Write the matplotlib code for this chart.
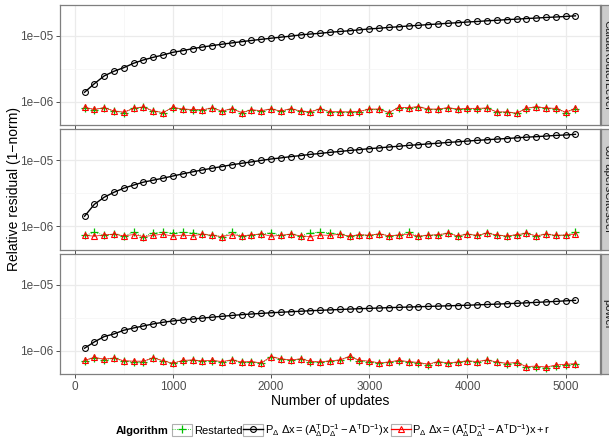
import matplotlib
matplotlib.use('Agg')
import matplotlib.pyplot as plt
from matplotlib.lines import Line2D
from matplotlib.patches import Rectangle
from matplotlib.legend_handler import HandlerLine2D

plt.rcParams['font.family'] = ['Liberation Sans', 'DejaVu Sans']
plt.rcParams['mathtext.fontset'] = 'custom'
plt.rcParams['mathtext.rm'] = 'Liberation Sans'
plt.rcParams['mathtext.it'] = 'Liberation Sans'
plt.rcParams['mathtext.bf'] = 'Liberation Sans:bold'

######################### DATA #########################
updates = list(range(100, 5200, 100))
graphs = ["CaidaRouterLevel", "coPapersCiteseer", "power"]
algorithms = ["Restarted",
              r"$\mathregular{P_\Delta\ \Delta x = (A_\Delta^T D_\Delta^{-1} - A^T D^{-1})x}$",
              r"$\mathregular{P_\Delta\ \Delta x = (A_\Delta^T D_\Delta^{-1} - A^T D^{-1})x + r}$"]

# CaidaRouterLevel (values in 1e-6 / 1e-7)
caida_delta = [1.40, 1.89, 2.48, 2.92, 3.31, 3.86, 4.33, 4.75, 5.15, 5.66,
               5.99, 6.42, 6.80, 7.15, 7.50, 7.85, 8.20, 8.55, 8.90, 9.25,
               9.60, 9.95, 10.4, 10.7, 11.0, 11.4, 11.7, 12.0, 12.4, 12.8,
               13.1, 13.5, 13.8, 14.2, 14.5, 14.9, 15.2, 15.6, 15.9, 16.3,
               16.6, 17.0, 17.3, 17.7, 18.0, 18.4, 18.7, 19.1, 19.4, 19.8, 20.2]
caida_delta_r = [8.3, 7.7, 8.2, 7.3, 7.0, 8.0, 8.4, 7.3, 6.9, 8.3,
                 7.8, 7.7, 7.6, 8.1, 7.3, 7.9, 6.9, 7.6, 7.4, 7.8,
                 7.3, 7.9, 7.3, 7.1, 7.9, 7.1, 7.1, 7.05, 7.2, 7.8,
                 7.8, 6.9, 8.3, 8.2, 8.5, 7.8, 7.8, 8.2, 7.8, 8.0,
                 8.0, 8.1, 7.05, 7.05, 6.75, 8.0, 8.5, 8.1, 8.0, 7.0, 8.0]
caida_restart = [8.2, 7.6, 8.2, 7.2, 6.9, 8.0, 8.3, 7.2, 6.9, 8.2,
                 7.7, 7.6, 7.6, 8.0, 7.2, 7.9, 6.9, 7.5, 7.3, 7.8,
                 7.2, 7.8, 7.2, 7.0, 7.8, 7.0, 7.0, 7.0, 7.1, 7.7,
                 7.7, 6.8, 8.2, 8.1, 8.4, 7.7, 7.7, 8.1, 7.7, 7.9,
                 7.9, 8.0, 7.0, 7.0, 6.7, 7.9, 8.4, 8.0, 7.9, 6.9, 7.9]

# coPapersCiteseer
copapers_delta = [1.42, 2.15, 2.75, 3.27, 3.77, 4.20, 4.65, 4.98, 5.34, 5.75,
                  6.20, 6.65, 7.10, 7.55, 8.00, 8.50, 8.95, 9.40, 9.90, 10.4,
                  10.8, 11.3, 11.7, 12.2, 12.6, 13.1, 13.5, 14.0, 14.4, 14.9,
                  15.3, 15.8, 16.2, 16.7, 17.1, 17.6, 18.0, 18.5, 18.9, 19.4,
                  19.9, 20.3, 20.8, 21.2, 21.7, 22.2, 22.6, 23.1, 23.6, 24.0, 24.5]
copapers_delta_r = [7.3, 7.1, 7.4, 7.6, 7.2, 7.5, 7.0, 7.3, 7.6, 7.1,
                    7.4, 7.2, 7.6, 7.3, 7.0, 7.5, 7.2, 7.4, 7.7, 7.1,
                    7.3, 7.6, 7.2, 7.0, 7.4, 7.3, 7.6, 7.1, 7.5, 7.3,
                    7.7, 7.2, 7.4, 7.6, 7.1, 7.3, 7.5, 7.8, 7.2, 7.6,
                    7.3, 7.9, 7.4, 7.1, 7.5, 7.8, 7.2, 7.6, 7.3, 7.4, 7.6]
copapers_restart = [7.3, 8.1, 7.4, 7.6, 7.2, 8.1, 7.0, 8.0, 8.1, 8.0,
                    8.1, 8.0, 7.6, 7.3, 7.0, 8.1, 7.2, 7.4, 7.7, 8.0,
                    7.3, 7.6, 7.2, 8.0, 8.1, 8.0, 7.6, 7.1, 7.5, 7.3,
                    7.7, 7.2, 7.4, 8.1, 7.1, 7.3, 7.5, 7.8, 7.2, 7.6,
                    7.3, 7.9, 7.4, 7.1, 7.5, 7.8, 7.2, 7.6, 7.3, 7.4, 8.1]

# power
power_delta = [1.10, 1.37, 1.65, 1.81, 2.06, 2.23, 2.39, 2.57, 2.72, 2.85,
               2.95, 3.05, 3.15, 3.25, 3.35, 3.45, 3.55, 3.63, 3.71, 3.79,
               3.86, 3.93, 4.00, 4.07, 4.13, 4.19, 4.25, 4.31, 4.37, 4.42,
               4.48, 4.53, 4.58, 4.63, 4.68, 4.73, 4.78, 4.83, 4.88, 4.93,
               5.00, 5.06, 5.13, 5.20, 5.28, 5.36, 5.45, 5.54, 5.64, 5.75, 5.85]
power_delta_r = [7.2, 8.0, 7.5, 7.8, 7.1, 7.0, 7.0, 7.9, 7.1, 6.5,
                 7.2, 7.3, 7.05, 7.2, 6.9, 7.3, 6.8, 6.9, 6.6, 8.2,
                 7.6, 7.3, 7.6, 7.0, 6.8, 7.1, 7.3, 8.3, 7.2, 7.0,
                 6.6, 6.8, 7.2, 6.9, 6.7, 6.3, 6.9, 6.6, 6.8, 7.1,
                 6.9, 7.3, 6.8, 6.5, 6.7, 5.8, 5.9, 5.7, 6.1, 6.3, 6.4]
power_restart = [7.1, 7.9, 7.4, 7.7, 7.0, 6.9, 6.9, 7.8, 7.0, 6.5,
                 7.1, 7.2, 7.0, 7.1, 6.8, 7.2, 6.7, 6.8, 6.5, 8.1,
                 7.5, 7.2, 7.5, 6.9, 6.7, 7.0, 7.2, 8.2, 7.1, 6.9,
                 6.5, 6.7, 7.1, 6.8, 6.6, 6.2, 6.8, 6.5, 6.7, 7.0,
                 6.8, 7.2, 6.7, 6.4, 6.6, 5.7, 5.8, 5.6, 6.0, 6.2, 6.3]

restart = [caida_restart, copapers_restart, power_restart]
delta = [caida_delta, copapers_delta, power_delta]
delta_r = [caida_delta_r, copapers_delta_r, power_delta_r]

######################### FIGURE #########################
W, H = 609, 441
fig = plt.figure(figsize=(W / 100, H / 100), dpi=100)

green = '#00BF00'
panel_rows = [(5, 125), (129, 249.5), (254, 374)]

for i, (top, bot) in enumerate(panel_rows):
    ax = fig.add_axes([60 / W, 1 - bot / H, 540 / W, (bot - top) / H])
    ax.set_yscale('log')
    ax.set_xlim(-150, 5350)
    ax.set_ylim(10 ** -6.35, 10 ** -4.53)

    # grid like theme_bw
    for xv in range(0, 6000, 1000):
        ax.axvline(xv, color='#EBEBEB', lw=0.9, zorder=0)
    for xv in range(500, 5000, 1000):
        ax.axvline(xv, color='#F6F6F6', lw=0.6, zorder=0)
    for yv in [1e-5, 1e-6]:
        ax.axhline(yv, color='#EBEBEB', lw=0.9, zorder=0)
    ax.axhline(10 ** -5.5, color='#F6F6F6', lw=0.6, zorder=0)

    ax.plot(updates, [v * 1e-7 for v in restart[i]], color=green, lw=0.6, ls=':',
            marker='+', ms=5.5, mew=0.9, zorder=2)
    ax.plot(updates, [v * 1e-6 for v in delta[i]], color='black', lw=1.0,
            marker='o', ms=4.2, mfc='none', mew=0.8, zorder=3)
    ax.plot(updates, [v * 1e-7 for v in delta_r[i]], color='red', lw=0.5,
            marker='^', ms=4.8, mfc='none', mew=0.8, zorder=4)

    ax.set_yticks([1e-6, 1e-5])
    ax.set_yticklabels(['1e\u221206', '1e\u221205'])
    ax.yaxis.set_minor_locator(matplotlib.ticker.NullLocator())
    ax.set_xticks(range(0, 6000, 1000))
    if i == 2:
        ax.set_xticklabels([str(v) for v in range(0, 6000, 1000)])
    else:
        ax.set_xticklabels([])
        ax.tick_params(axis='x', length=0)
    ax.tick_params(labelsize=8.5, labelcolor='#4D4D4D', color='#333333',
                   length=2.75, width=0.6, pad=2)
    for s in ax.spines.values():
        s.set_color('#7F7F7F')
        s.set_linewidth(0.9)

    # facet strip on the right (cut by the figure edge, as in the original)
    st = fig.add_axes([601 / W, 1 - bot / H, 13 / W, (bot - top) / H])
    st.set_facecolor('#CCCCCC')
    st.set_xticks([])
    st.set_yticks([])
    for s in st.spines.values():
        s.set_color('#7F7F7F')
        s.set_linewidth(0.9)
    st.text(0.5, 0.5, graphs[i], rotation=270, ha='center', va='center',
            fontsize=8, color='#1A1A1A', transform=st.transAxes)

fig.text(330 / W, 1 - 401 / H, 'Number of updates', ha='center', va='center', fontsize=10)
fig.text(14 / W, 1 - 189 / H, 'Relative residual (1\u2212norm)', ha='center', va='center',
         rotation=90, fontsize=10)


######################### LEGEND #########################
class BoxHandler(HandlerLine2D):
    def create_artists(self, legend, orig_handle, xdescent, ydescent, width, height, fontsize, trans):
        arts = super().create_artists(legend, orig_handle, xdescent, ydescent, width, height, fontsize, trans)
        box = Rectangle((-xdescent, -ydescent), width, height, facecolor='white',
                        edgecolor='#B0B0B0', lw=0.8, transform=trans)
        return [box] + arts


handles = [
    Line2D([], [], color=green, lw=0.6, ls=':', marker='+', ms=5.5, mew=0.9),
    Line2D([], [], color='black', lw=1.0, marker='o', ms=4.2, mfc='none', mew=0.8),
    Line2D([], [], color='red', lw=0.9, marker='^', ms=4.8, mfc='none', mew=0.8),
]
fig.text(116 / W, 1 - 431 / H, 'Algorithm', ha='left', va='center', fontsize=8, fontweight='bold')
fig.legend(handles, algorithms, loc='center left', bbox_to_anchor=(172 / W, 1 - 430.5 / H),
           ncol=3, frameon=False, fontsize=8, borderpad=0, borderaxespad=0,
           handlelength=1.8, handleheight=1.35, handletextpad=0.15, columnspacing=0.1,
           numpoints=1, handler_map={Line2D: BoxHandler()})

fig.savefig('out.png', dpi=100)
